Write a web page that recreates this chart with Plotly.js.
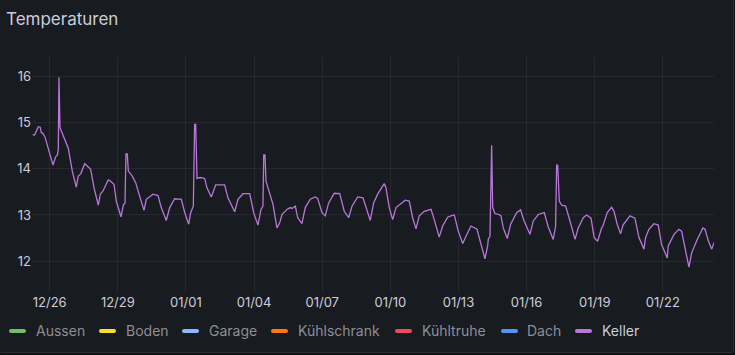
<!DOCTYPE html>
<html>
<head>
<meta charset="utf-8">
<script src="https://cdn.plot.ly/plotly-3.0.1.min.js"></script>
<style>
  html, body { margin: 0; padding: 0; background: #111217; width: 735px; height: 355px; overflow: hidden; }
  #panel { position: absolute; left: -1px; top: -1px; width: 733px; height: 352px; background: #181b1f;
           border: 1px solid #2c2f35; border-radius: 3px; overflow: hidden; }
  #chart { position: absolute; left: 1px; top: 1px; width: 735px; height: 355px; }
  .leg { position: absolute; top: 322px; height: 18px; font-family: Inter, sans-serif; font-size: 14px; line-height: 18px; color: #8e8e98; white-space: nowrap; }
  .leg .mk { position: absolute; top: 7px; left: 0; width: 17px; height: 4px; border-radius: 2px; }
  .leg .tx { position: absolute; top: 0; }
</style>
</head>
<body>
<div id="panel"></div>
<div id="chart"></div>
<div id="legend"></div>
<script>
// ---- data ----
// hours since 2023-12-25 00:00
const kellerHours = [
  6, 8, 12, 14, 15, 17, 19, 23.3, 27.5, 30.3, 32.0, 33.1, 33.8, 34.9, 39.1, 43.7, 47.9, 52.1, 54.2, 56.8,
  61.0, 63.7, 67.3, 70.8, 75.4, 77.5, 80.3, 85.9, 88.5, 92.0, 94.4, 99.3, 101.8, 103.6, 104.6, 106.0, 107.1,
  111.3, 114.9, 118.4, 123.7, 126.1, 129.7, 133.2, 138.5, 141.9, 147.2, 150.8, 156.1, 163.1, 166.7, 170.9,
  173.0, 175.8, 177.2, 178.3, 179.7, 183.2, 187.8, 190.2, 194.8, 199.4, 208.9, 212.4, 219.5, 223.0, 228.3,
  235.4, 239.6, 244.1, 247.3, 249.4, 250.2, 251.5, 252.6, 256.5, 260.0, 264.2, 267.1, 269.5, 274.8, 278.3,
  280.1, 283.6, 286.1, 290.6, 294.1, 299.4, 304.7, 307.2, 311.8, 315.3, 318.8, 324.8, 330.5, 335.3, 340.0,
  343.5, 349.5, 355.1, 359.3, 362.8, 366.4, 370.6, 377.6, 379.4, 382.9, 386.5, 390.0, 395.3, 399.8, 404.0,
  407.6, 411.1, 414.6, 419.9, 427.0, 430.4, 435.7, 439.3, 444.6, 448.1, 451.6, 455.8, 460.5, 464.0, 469.2,
  475.6, 479.8, 484.0, 486.9, 487.5, 489.3, 490.4, 491.1, 492.2, 494.6, 498.8, 500.9, 503.4, 507.6, 511.2,
  517.5, 521.7, 525.2, 531.6, 535.1, 540.3, 546.7, 550.9, 556.2, 558.7, 559.8, 560.9, 562.6, 565.1, 569.3,
  573.9, 579.2, 582.6, 587.9, 591.5, 596.1, 599.5, 603.1, 607.4, 608.7, 613.3, 617.9, 620.4, 623.8, 627.4,
  629.9, 637.3, 642.5, 646.8, 652.1, 653.8, 657.3, 662.6, 667.2, 670.7, 676.7, 677.7, 683.8, 689.0, 691.9,
  695.4, 699.6, 702.5, 708.4, 714.4, 716.6, 720.1, 723.7, 726.1
];
const kellerValues = [
  14.74, 14.73, 14.91, 14.90, 14.79, 14.76, 14.69, 14.38, 14.08, 14.26, 14.29, 14.42, 15.98, 14.89, 14.67, 14.44, 13.95, 13.60, 13.84, 13.89,
  14.11, 14.06, 13.99, 13.59, 13.21, 13.45, 13.52, 13.76, 13.73, 13.66, 13.30, 12.96, 13.21, 13.26, 14.32, 14.32, 13.95,
  13.84, 13.70, 13.45, 13.10, 13.34, 13.39, 13.45, 13.42, 13.16, 12.88, 13.16, 13.35, 13.34, 13.05, 12.80,
  13.05, 13.19, 14.96, 14.96, 13.79, 13.81, 13.79, 13.59, 13.39, 13.65, 13.65, 13.37, 13.07, 13.34, 13.46,
  13.46, 13.05, 12.78, 13.12, 13.19, 14.30, 14.30, 13.73, 13.48, 13.23, 12.72, 12.83, 13.01, 13.12, 13.16,
  13.14, 13.19, 12.94, 12.81, 13.16, 13.34, 13.39, 13.36, 13.05, 12.98, 13.26, 13.47, 13.46, 13.08, 12.94,
  13.19, 13.39, 13.37, 13.08, 12.88, 13.26, 13.45, 13.68, 13.59, 13.16, 12.90, 13.16, 13.24, 13.32, 13.30,
  12.94, 12.70, 12.98, 13.08, 13.12, 12.90, 12.52, 12.76, 12.95, 12.98, 13.00, 12.65, 12.38, 12.54, 12.76,
  12.69, 12.38, 12.05, 12.33, 12.47, 12.54, 14.51, 14.51, 13.16, 13.03, 13.01, 12.98, 12.72, 12.49, 12.80,
  13.05, 13.11, 12.88, 12.58, 12.87, 13.01, 13.05, 12.74, 12.47, 12.76, 14.08, 14.08, 13.30, 13.21, 13.19,
  12.87, 12.47, 12.72, 12.94, 13.00, 12.93, 12.51, 12.43, 12.72, 12.76, 13.05, 13.17, 13.08, 12.80, 12.59,
  12.78, 12.98, 12.93, 12.51, 12.26, 12.51, 12.69, 12.81, 12.78, 12.36, 12.07, 12.33, 12.58, 12.69, 12.65,
  12.29, 11.87, 12.18, 12.47, 12.72, 12.69, 12.44, 12.26, 12.40
];
const seriesNames = ["Aussen", "Boden", "Garage", "Kühlschrank", "Kühltruhe", "Dach", "Keller"];
const seriesColors = ["#73bf69", "#fade2a", "#8ab8ff", "#ff780a", "#f2495c", "#5794f2", "#b877d9"];
const tickDates = ["2023-12-26", "2023-12-29", "2024-01-01", "2024-01-04", "2024-01-07", "2024-01-10", "2024-01-13", "2024-01-16", "2024-01-19", "2024-01-22"];
const tickLabels = ["12/26", "12/29", "01/01", "01/04", "01/07", "01/10", "01/13", "01/16", "01/19", "01/22"];
const yTicks = [12, 13, 14, 15, 16];
const chartTitle = "Temperaturen";

// ---- build ----
const base = Date.UTC(2023, 11, 25);
function toStr(h) { return new Date(base + h * 3600000).toISOString().replace('T', ' ').slice(0, 19); }
const kellerX = kellerHours.map(toStr);

const traces = [{
  x: kellerX, y: kellerValues, type: 'scatter', mode: 'lines', name: 'Keller',
  line: { color: seriesColors[6], width: 1.3 }, hoverinfo: 'skip', showlegend: false
}];

const layout = {
  width: 735, height: 355,
  paper_bgcolor: 'rgba(0,0,0,0)', plot_bgcolor: 'rgba(0,0,0,0)',
  margin: { l: 31, r: 22, t: 56, b: 63 },
  title: { text: chartTitle, xref: 'container', yref: 'container', x: 5 / 735, xanchor: 'left',
           y: 1 - 18 / 355, yanchor: 'middle', font: { family: 'Inter', size: 17, color: '#ccccdc', weight: 400 } },
  font: { family: 'Inter', color: '#ccccdc', size: 13 },
  xaxis: {
    type: 'date', range: [toStr(5.3), toStr(726.1)],
    tickvals: tickDates, ticktext: tickLabels,
    showgrid: true, gridcolor: 'rgba(204,204,220,0.08)', gridwidth: 1,
    zeroline: false, showline: false, ticks: '', tickfont: { size: 13, color: '#ccccdc' }
  },
  yaxis: {
    range: [11.31, 16.42], tickvals: yTicks,
    showgrid: true, gridcolor: 'rgba(204,204,220,0.08)', gridwidth: 1,
    zeroline: false, showline: false, ticks: '', tickfont: { size: 13, color: '#ccccdc' }
  },
  showlegend: false
};

Plotly.newPlot('chart', traces, layout, { displayModeBar: false, staticPlot: true });

// legend (HTML)
const legLefts = [9, 99, 182, 271, 395, 501, 575];
const legText = [36, 126, 209, 298, 422, 527, 602];
const legend = document.getElementById('legend');
seriesNames.forEach((n, i) => {
  const d = document.createElement('div');
  d.className = 'leg';
  d.style.left = legLefts[i] + 'px';
  const mk = document.createElement('div');
  mk.className = 'mk'; mk.style.background = seriesColors[i];
  const tx = document.createElement('div');
  tx.className = 'tx'; tx.style.left = (legText[i] - legLefts[i]) + 'px';
  tx.textContent = n;
  if (n === 'Keller') tx.style.color = '#ccccdc';
  d.appendChild(mk); d.appendChild(tx);
  legend.appendChild(d);
});
</script>
</body>
</html>
